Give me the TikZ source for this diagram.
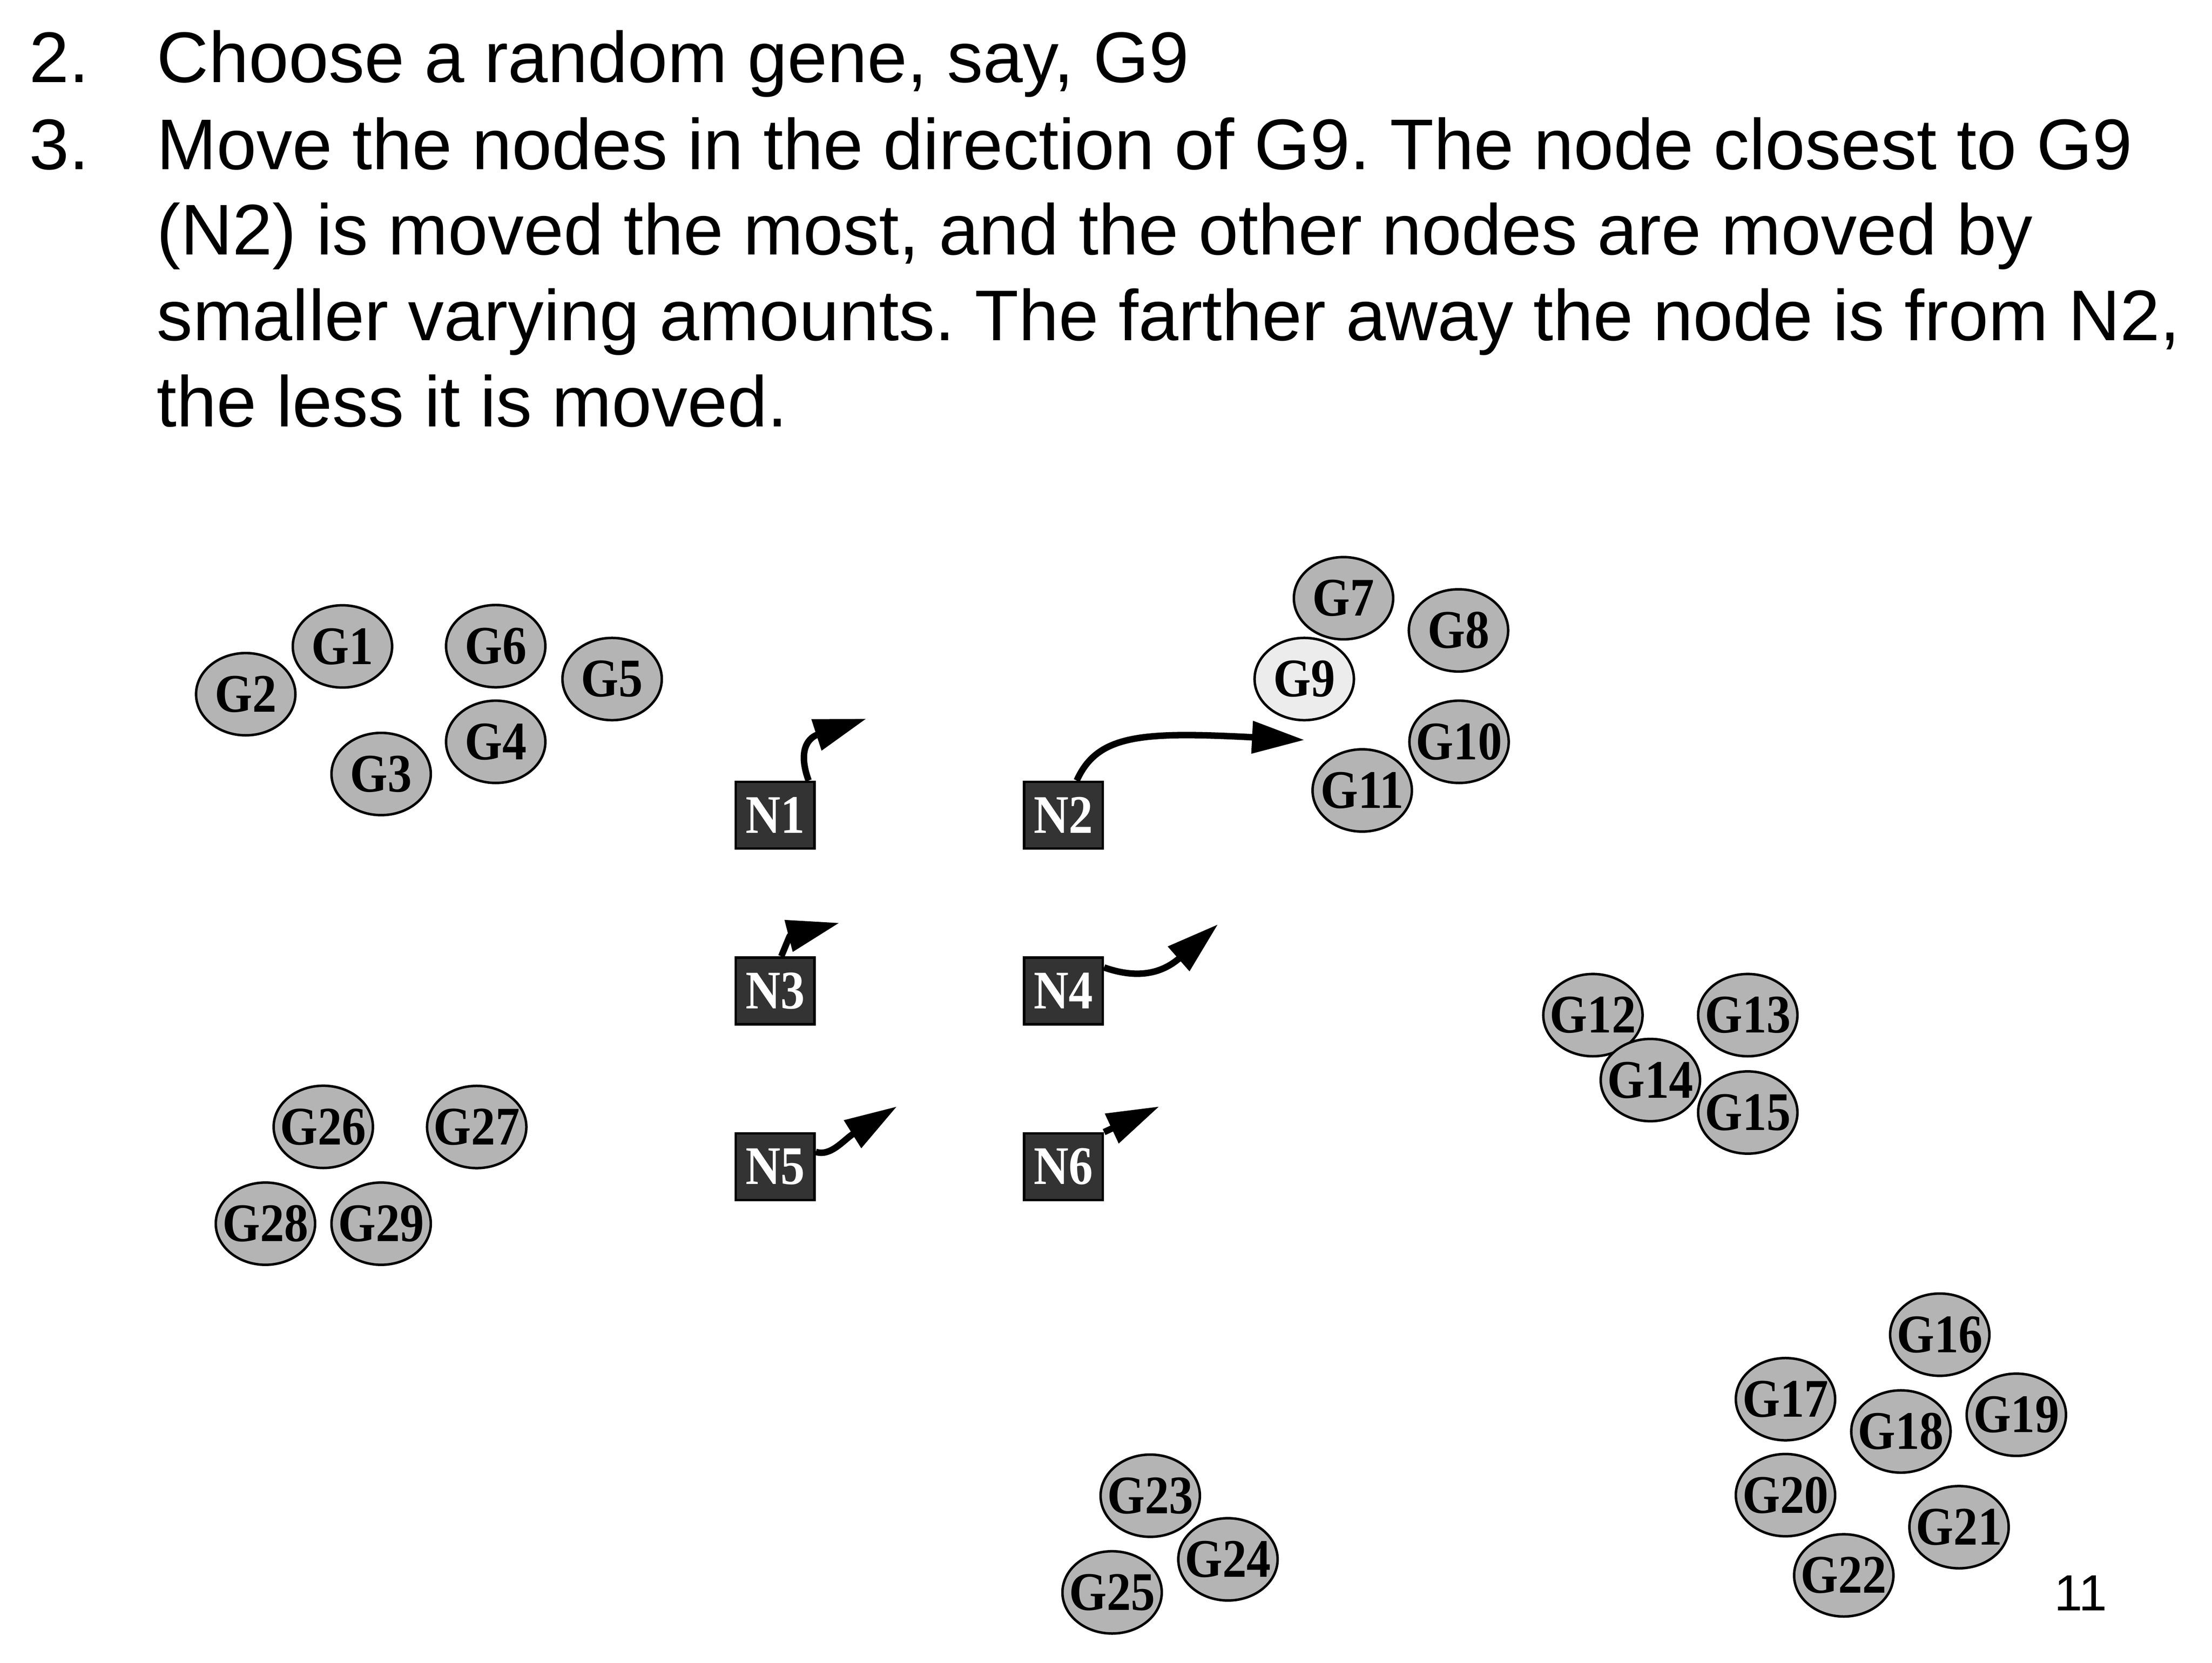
\documentclass[tikz,border=0pt]{standalone}
\usepackage{fontspec}
\setmainfont{Liberation Sans}
\newfontfamily\genefont[FakeStretch=0.89]{Liberation Serif}
\usetikzlibrary{arrows.meta,shapes.geometric}
\definecolor{genegray}{RGB}{180,180,180}
\definecolor{genepick}{RGB}{236,236,236}
\definecolor{unitgray}{RGB}{51,51,51}
\frenchspacing
\tikzset{
  gene/.style={ellipse,draw=black,line width=0.5pt,fill=genegray,
    minimum width=7mm,minimum height=5.8mm,inner xsep=-1.5mm,inner ysep=0pt,
    font=\genefont\bfseries\fontsize{10.9}{12}\selectfont},
  unit/.style={rectangle,draw=black,line width=0.5pt,fill=unitgray,text=white,
    minimum width=5.55mm,minimum height=4.7mm,inner sep=0pt,
    font=\genefont\bfseries\fontsize{10.9}{12}\selectfont},
  txt/.style={anchor=base west,inner sep=0pt,font=\fontsize{14.4}{17}\selectfont},
  move/.style={line width=1.3pt,-{Triangle[length=3.7mm,width=2.2mm]}}
}
\begin{document}
\begin{tikzpicture}[x=0.01cm,y=-0.01cm]
\useasboundingbox (0,0) rectangle (1560,1173.1);
% step text
\node[txt] (n2) at (20,58) {2.};
\node[txt] (n3) at (20,119.4) {3.};
\node[txt] (l1) at (110,58) {Choose a random gene, say, G9};
\node[txt] (l2) at (110,119.4) {Move the nodes in the direction of G9. The node closest to G9};
\node[txt] (l3) at (110,179.6) {(N2) is moved the most, and the other nodes are moved by};
\node[txt] (l4) at (110,240) {smaller varying amounts. The farther away the node is from N2,};
\node[txt] (l5) at (110,301) {the less it is moved.};
\node[anchor=base west,inner sep=0pt,font=\fontsize{10.2}{12}\selectfont] (page) at (1448,1136) {11};
% genes
\foreach \g/\x/\y in {G1/241.5/456,G2/173.3/489.7,G3/268.8/546,G4/349.6/523.3,G5/431.7/479,
    G6/349.6/455.8,G7/947.5/422,G8/1028.6/444.7,G10/1029/523.3,G11/960.7/557.6,
    G12/1123.4/716.1,G13/1232.6/716.1,G14/1163.9/761.9,G15/1232.6/784.8,
    G16/1368/941.5,G17/1259.2/987,G18/1340.6/1009.8,G19/1422/998,G20/1259.2/1054.7,
    G21/1381.6/1077.3,G22/1300.3/1111.3,G23/811.2/1055.1,G24/866/1100,G25/784.3/1123.3,
    G26/228/794.9,G27/336.2/795,G28/187.2/863.2,G29/268.8/863.2}{
    \node[gene] (\g) at (\x,\y) {\g};
}
\node[gene,fill=genepick] (G9) at (919.8,479) {G9};
% map nodes
\foreach \i/\x/\y in {1/546.7/575,2/750/575,3/546.7/699,4/750/699,5/546.7/823,6/750/823}{
    \node[unit] (N\i) at (\x,\y) {N\i};
}
% moves towards G9
\coordinate (t1) at (611,507);
\coordinate (t2) at (920,522);
\coordinate (t3) at (592,651);
\coordinate (t4) at (859,652);
\coordinate (t5) at (632.6,780.5);
\coordinate (t6) at (817.6,780.5);
\draw[move] (N1.46) .. controls (562,528) and (571,520) .. (t1);
\draw[move] (N2.69) .. controls (774,518) and (805,516) .. (t2);
\draw[move] (N3.80) .. controls (557,660) .. (t3);
\draw[move] (N4.30) .. controls (800,690) and (818,688) .. (t4);
\draw[move] (N5.20) .. controls (586,816) and (595,804) .. (t5);
\draw[move] (N6.north east) -- (t6);
\end{tikzpicture}
\end{document}
